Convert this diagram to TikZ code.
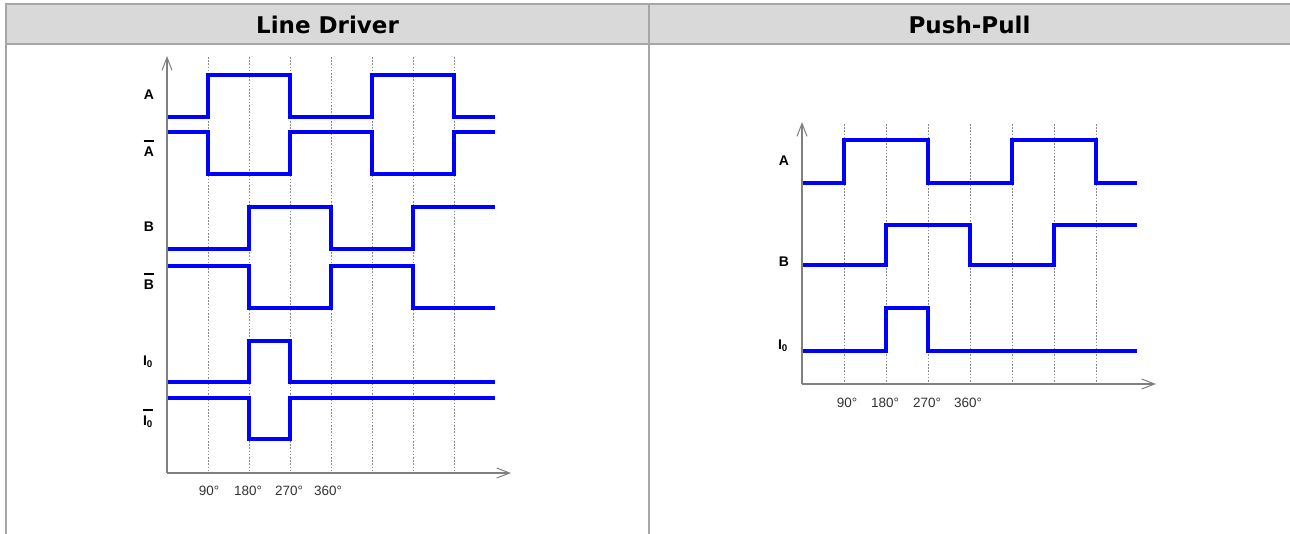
\documentclass[tikz,border=0pt]{standalone}
\usepackage{fontspec}
\setmainfont{Liberation Sans}
\newfontfamily\hdrfont{DejaVu Sans}
\usetikzlibrary{arrows.meta}
\definecolor{hdrfill}{HTML}{D9D9D9}
\definecolor{hdrline}{HTML}{A6A6A6}
\definecolor{sigblue}{HTML}{0000FF}
\definecolor{axisgray}{HTML}{808080}
\definecolor{gridgray}{HTML}{8A8A8A}
\definecolor{ticktext}{HTML}{333333}
\begin{document}
\begin{tikzpicture}[x=1pt,y=-1pt,
  frameline/.style={draw=hdrline,line width=2pt},
  hdrtext/.style={font=\hdrfont\bfseries\fontsize{23}{26}\selectfont,inner sep=0pt},
  sig/.style={draw=sigblue,line width=4pt,line join=miter},
  axisline/.style={draw=axisgray,line width=1.2pt,-{Straight Barb[length=13pt,width=10pt,line width=1pt]}},
  gridline/.style={draw=gridgray,line width=0.7pt,dash pattern=on 1.6pt off 1.6pt},
  siglabel/.style={font=\bfseries\fontsize{14}{16}\selectfont,inner sep=0pt},
  ticklabel/.style={font=\fontsize{13.5}{15}\selectfont,text=ticktext,inner sep=0pt},
  barline/.style={draw=black,line width=1.4pt}]
\useasboundingbox (0,0) rectangle (1290,534);
% table
\fill[hdrfill] (6,4) rectangle (1290,44);
\draw[frameline] (5,4) -- (1290,4);
\draw[frameline] (5,44) -- (1290,44);
\draw[frameline] (6,3) -- (6,534);
\draw[frameline] (649,3) -- (649,534);
\node[hdrtext] (hleft) at (327.5,25) {Line Driver};
\node[hdrtext] (hright) at (969.5,25) {Push-Pull};

% ---------- Left diagram ----------
\foreach \x in {208,249,290,331,372,413,454} \draw[gridline] (\x,57) -- (\x,473);
\coordinate (lo) at (167,473);
\coordinate (ltop) at (167,56);
\coordinate (lright) at (511,473);
\draw[axisline] (lo) -- (ltop);
\draw[axisline] (lo) -- (lright);

\draw[sig] (168,117) -| (208,75) -| (290,117) -| (372,75) -| (454,117) -- (495,117);
\draw[sig] (168,132) -| (208,174) -| (290,132) -| (372,174) -| (454,132) -- (495,132);
\draw[sig] (168,249) -| (249,207) -| (331,249) -| (413,207) -- (495,207);
\draw[sig] (168,266) -| (249,308) -| (331,266) -| (413,308) -- (495,308);
\draw[sig] (168,382) -| (249,341) -| (290,382) -- (495,382);
\draw[sig] (168,398) -| (249,439) -| (290,398) -- (495,398);

\node[siglabel] (la) at (149,95) {A};
\node[siglabel] (lab) at (149,152) {A};
\draw[barline] ([yshift=6pt]lab.north west) -- ([yshift=6pt]lab.north east);
\node[siglabel] (lb) at (149,227) {B};
\node[siglabel] (lbb) at (149,285) {B};
\draw[barline] ([yshift=6pt]lbb.north west) -- ([yshift=6pt]lbb.north east);
\node[siglabel] (li) at (148,362) {I\textsubscript{0}};
\node[siglabel] (lib) at (148,422) {I\textsubscript{0}};
\draw[barline] ([yshift=6pt]lib.north west) -- ([yshift=6pt]lib.north east);

\node[ticklabel] (lt1) at (209,491) {90°};
\node[ticklabel] (lt2) at (248,491) {180°};
\node[ticklabel] (lt3) at (289,491) {270°};
\node[ticklabel] (lt4) at (328,491) {360°};

% ---------- Right diagram ----------
\foreach \x in {844,886,928,970,1012,1054,1096} \draw[gridline] (\x,124) -- (\x,384);
\coordinate (ro) at (802,384);
\coordinate (rtop) at (802,122);
\coordinate (rright) at (1156,384);
\draw[axisline] (ro) -- (rtop);
\draw[axisline] (ro) -- (rright);

\draw[sig] (803,183) -| (844,140) -| (928,183) -| (1012,140) -| (1096,183) -- (1137,183);
\draw[sig] (803,265) -| (886,225) -| (970,265) -| (1054,225) -- (1137,225);
\draw[sig] (803,351) -| (886,308) -| (928,351) -- (1137,351);

\node[siglabel] (ra) at (784,161) {A};
\node[siglabel] (rb) at (784,262) {B};
\node[siglabel] (ri) at (783,346) {I\textsubscript{0}};

\node[ticklabel] (rt1) at (847,403) {90°};
\node[ticklabel] (rt2) at (885,403) {180°};
\node[ticklabel] (rt3) at (927,403) {270°};
\node[ticklabel] (rt4) at (968,403) {360°};
\end{tikzpicture}
\end{document}
